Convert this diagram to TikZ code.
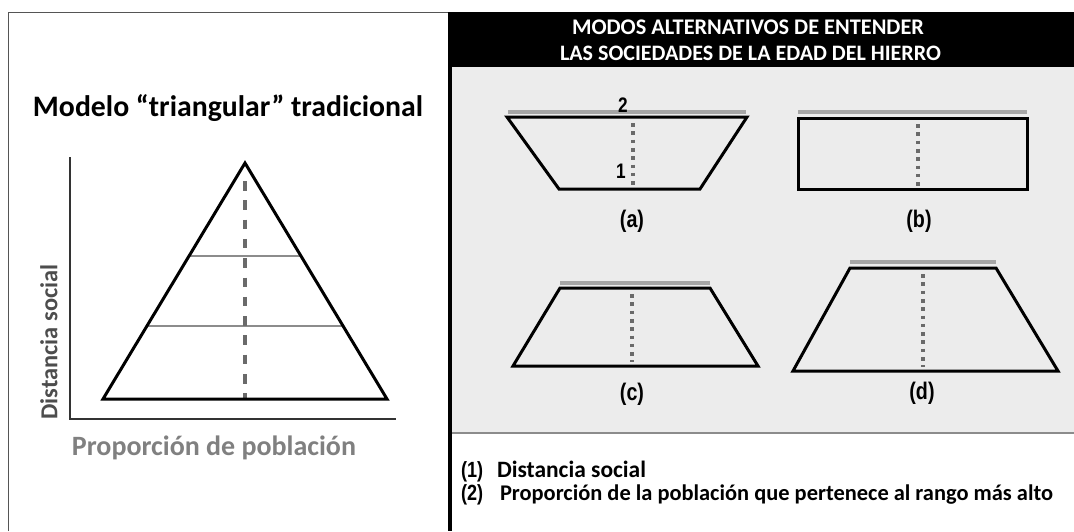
\documentclass[tikz,border=0pt]{standalone}
\usepackage{fontspec}
\usepackage{graphicx}
\setmainfont{Carlito}
\newfontfamily\libsans{Liberation Sans}
\usetikzlibrary{calc}
\definecolor{panelg}{HTML}{ECECEC}
\definecolor{barg}{HTML}{A6A6A6}
\definecolor{dotg}{HTML}{6A6A6A}
\definecolor{bordg}{HTML}{555555}
\definecolor{lineg}{HTML}{8C8C8C}
\definecolor{axlab}{HTML}{4D4D4D}
\definecolor{poblab}{HTML}{808080}
\newcommand{\fitw}[2]{\resizebox{#1}{!}{#2}}
\newcommand{\cnd}[2]{\scalebox{0.82}[1]{\libsans\bfseries\fontsize{#1}{#1}\selectfont #2}}
\begin{document}
\begin{tikzpicture}[x=1pt,y=-1pt,
  outline/.style={line width=3pt, black, line join=miter},
  topbar/.style={line width=4pt, barg},
  dotline/.style={line width=3.6pt, dotg, dash pattern=on 3.6pt off 4.7pt},
  dashline/.style={line width=4pt, dotg, dash pattern=on 9.5pt off 9.8pt},
  divline/.style={line width=1.2pt, lineg},
  axisline/.style={line width=1.2pt, black!80},
  txt/.style={inner sep=0pt, outer sep=0pt, font=\bfseries},
  lbl/.style={inner sep=0pt, outer sep=0pt}]
\useasboundingbox (0,0) rectangle (1074,531);
\fill[white] (0,0) rectangle (1074,531);

% ---------- left panel ----------
\draw[bordg, line width=1pt] (8,531) -- (8,12) -- (450,12);
\node[txt, anchor=center] (title) at (228,108) {\fitw{390pt}{\fontsize{24}{24}\selectfont Modelo “triangular” tradicional}};

\coordinate (ytop) at (70,157);
\coordinate (orig) at (70,419);
\coordinate (xend) at (396,419);
\draw[axisline] (ytop) -- (orig) -- (xend);

\coordinate (apex) at (245,163);
\coordinate (bl) at (103,399);
\coordinate (br) at (387,399);
\draw[divline] ($(apex)!0.394!(bl)$) -- ($(apex)!0.394!(br)$);
\draw[divline] ($(apex)!0.691!(bl)$) -- ($(apex)!0.691!(br)$);
\coordinate (dtop) at (245,181);
\coordinate (dbot) at (245,399);
\draw[dashline] (dtop) -- (dbot);
\draw[outline] (apex) -- (br) -- (bl) -- cycle;

\node[txt, text=axlab, rotate=90, anchor=center] (ylab) at (49,342) {\fitw{155pt}{\fontsize{22}{22}\selectfont Distancia social}};
\node[txt, text=poblab, anchor=center] (xlab) at (214,448) {\fitw{284pt}{\fontsize{24}{24}\selectfont Proporción de población}};

% ---------- right panel ----------
\fill[black] (450,12) rectangle (1074,67);
\fill[panelg] (451.5,67) rectangle (1074,433);
\draw[lineg, line width=1.2pt] (451.5,433) -- (1074,433);
\draw[black, line width=3.5pt] (450,12) -- (450,531);

\node[txt, text=white, anchor=center] (h1) at (748,27) {\fitw{352pt}{\fontsize{18}{18}\selectfont MODOS ALTERNATIVOS DE ENTENDER}};
\node[txt, text=white, anchor=center] (h2) at (750.5,53) {\fitw{381pt}{\fontsize{18}{18}\selectfont LAS SOCIEDADES DE LA EDAD DEL HIERRO}};

% (a)
\draw[topbar] (508,112) -- (746,112);
\draw[dotline] (633,123) -- (633,189);
\draw[outline] (507,117) -- (747,117) -- (700,189) -- (559,189) -- cycle;
\node[lbl, anchor=base] (n2) at (623,112) {\cnd{21}{2}};
\node[lbl, anchor=base] (n1) at (621,178) {\cnd{21}{1}};
\node[lbl, anchor=center] (la) at (632,221) {\cnd{24}{(a)}};

% (b)
\draw[topbar] (798,112) -- (1027,112);
\draw[dotline] (918,124) -- (918,189);
\draw[outline] (798,118) rectangle (1027,189);
\node[lbl, anchor=center] (lb) at (919,221) {\cnd{24}{(b)}};

% (c)
\draw[topbar] (560,283) -- (710,283);
\draw[dotline] (632,294) -- (632,362);
\draw[outline] (560,288) -- (710,288) -- (758,366) -- (513,366) -- cycle;
\node[lbl, anchor=center] (lc) at (632,394) {\cnd{24}{(c)}};

% (d)
\draw[topbar] (850,262) -- (996,262);
\draw[dotline] (923,274) -- (923,367);
\draw[outline] (850,268) -- (996,268) -- (1058,371) -- (793,371) -- cycle;
\node[lbl, anchor=center] (ld) at (922,393) {\cnd{24}{(d)}};

% legend
\node[lbl, anchor=base west] (k1) at (461,477) {\cnd{22}{(1)}};
\node[txt, anchor=base west] (t1) at (497,477) {\fitw{149pt}{\fontsize{22}{22}\selectfont Distancia social}};
\node[lbl, anchor=base west] (k2) at (461,500) {\cnd{22}{(2)}};
\node[txt, anchor=base west] (t2) at (500,500) {\fitw{553pt}{\fontsize{22}{22}\selectfont Proporción de la población que pertenece al rango más alto}};
\end{tikzpicture}
\end{document}
